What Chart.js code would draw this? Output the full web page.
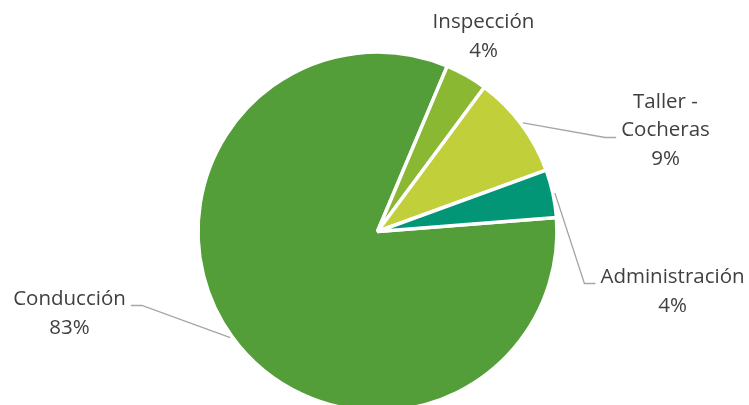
<!DOCTYPE html>
<html>
<head>
<meta charset="utf-8">
<script src="https://cdn.jsdelivr.net/npm/chart.js@4.4.1/dist/chart.umd.min.js"></script>
<style>
  html, body { margin: 0; padding: 0; background: #fff; overflow: hidden; }
  #wrap { width: 749px; height: 405px; overflow: hidden; }
  #box { width: 749px; height: 463px; }
</style>
</head>
<body>
<div id="wrap"><div id="box"><canvas id="pie"></canvas></div></div>
<script>
// ===== reparto por área =====

const categories  = ['Conducción', 'Inspección', 'Taller - Cocheras', 'Administración'];
const labelLines  = [['Conducción'], ['Inspección'], ['Taller -', 'Cocheras'], ['Administración']];
const shares      = [82.6, 3.8, 9.3, 4.3];
const sliceColors = ['#549E39', '#8AB833', '#C0CF3A', '#029676'];

// text block offsets from the pie centre, leader line side and height
const labelSpots = [
  { dx: -308, dy:   82, side: 'right', lineDy: -8 },
  { dx:  106, dy: -195, side: null },
  { dx:  288, dy: -101, side: 'left',  lineDy:  7 },
  { dx:  295, dy:   60, side: 'left',  lineDy: -8 },
];

const outsideLabels = {
  id: 'outsideLabels',
  afterDatasetsDraw: function(chart, args, opts) {
    const ctx   = chart.ctx;
    const meta  = chart.getDatasetMeta(0);
    const total = shares.reduce(function(a, b) { return a + b; }, 0);

    ctx.save();
    ctx.font = opts.font;
    ctx.textAlign = 'center';
    ctx.textBaseline = 'middle';

    meta.data.forEach(function(arc, i) {
      const p    = arc.getProps(['x', 'y', 'startAngle', 'endAngle', 'outerRadius'], true);
      const spot = labelSpots[i];
      const lines = labelLines[i].concat([Math.round(shares[i] / total * 100) + '%']);
      const cx = p.x + spot.dx;
      const cy = p.y + spot.dy;
      const top = cy - (lines.length - 1) * opts.lineHeight / 2;

      let widest = 0;
      ctx.fillStyle = opts.color;
      lines.forEach(function(t, k) {
        widest = Math.max(widest, ctx.measureText(t).width);
        ctx.fillText(t, cx, top + k * opts.lineHeight);
      });

      if (!spot.side) return;

      const mid = (p.startAngle + p.endAngle) / 2;
      const r   = p.outerRadius + 2;
      const sx  = p.x + Math.cos(mid) * r;
      const sy  = p.y + Math.sin(mid) * r;
      const dir = spot.side === 'left' ? -1 : 1;
      const ex  = cx + dir * (widest / 2 + 5);
      const bx  = ex + dir * 11;
      const ly  = cy + spot.lineDy;

      ctx.beginPath();
      ctx.moveTo(sx, sy);
      ctx.lineTo(bx, ly);
      ctx.lineTo(ex, ly);
      ctx.strokeStyle = opts.lineColor;
      ctx.lineWidth = 1.3;
      ctx.stroke();
    });
    ctx.restore();
  }
};

const ctx = document.getElementById('pie').getContext('2d');
const chart = new Chart(ctx, {
  type: 'pie',
  data: {
    labels: categories,
    datasets: [{
      data            : shares,
      backgroundColor : sliceColors,
      borderColor     : '#ffffff',
      borderWidth     : 3.5,
    }]
  },
  options: {
    responsive: true,
    maintainAspectRatio: false,
    animation: false,
    events: [],
    rotation: 85.5,
    radius: 179.5,
    layout: { padding: { left: 198, right: 192, top: 52, bottom: 52 } },
    plugins: {
      legend : { display: false },
      tooltip: { enabled: false },
      outsideLabels: {
        font      : '20.5px "Open Sans"',
        color     : '#404040',
        lineColor : '#A6A6A6',
        lineHeight: 28.5,
      }
    }
  },
  plugins: [outsideLabels]
});
</script>
</body>
</html>
